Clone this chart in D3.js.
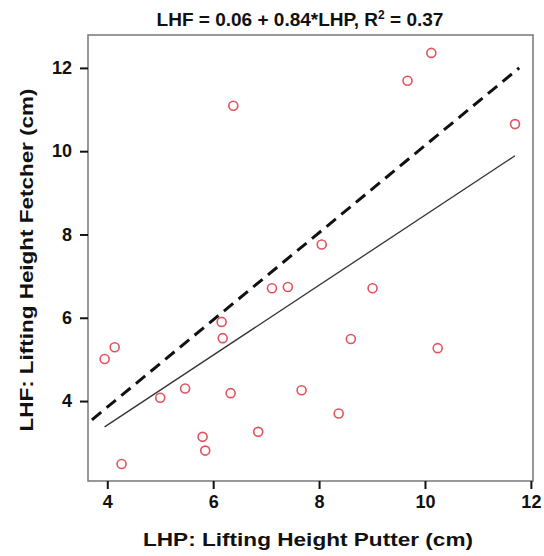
<!DOCTYPE html>
<html>
<head>
<meta charset="utf-8">
<script src="https://cdn.jsdelivr.net/npm/d3@7"></script>
<style>
  body { margin: 0; background: #fff; }
  text { font-family: "Liberation Sans", Arial, sans-serif; font-weight: bold; fill: #111; }
</style>
</head>
<body>
<div id="chart"></div>
<script>
// 数据
const lhp = [3.95, 4.14, 4.27, 5.0, 5.47, 5.80, 5.85, 6.16, 6.18, 6.33, 6.38, 6.85,
             7.11, 7.41, 7.67, 8.05, 8.37, 8.60, 9.01, 9.67, 10.12, 10.24, 11.70];
const lhf = [5.01, 5.29, 2.49, 4.08, 4.30, 3.14, 2.81, 5.90, 5.51, 4.19, 11.09, 3.26,
             6.71, 6.74, 4.26, 7.76, 3.70, 5.49, 6.71, 11.69, 12.36, 5.27, 10.65];
// 回归线和虚线端点
const fitLine = [[3.95, 3.38], [11.7, 9.89]];
const dashLine = [[3.71, 3.55], [11.78, 12.0]];
const xTicks = [4, 6, 8, 10, 12];
const yTicks = [4, 6, 8, 10, 12];

const W = 544, H = 556;
const margin = {top: 35, right: 11, bottom: 75, left: 88};
const width = W - margin.left - margin.right;
const height = H - margin.top - margin.bottom;

const svg = d3.select('#chart')
    .append('svg')
    .attr('width', W)
    .attr('height', H);

const g = svg.append('g')
    .attr('transform', `translate(${margin.left},${margin.top})`);

const x = d3.scaleLinear().domain([3.636, 12.04]).range([0, width]);
const y = d3.scaleLinear().domain([2.08, 12.79]).range([height, 0]);

// 边框
g.append('rect')
    .attr('width', width)
    .attr('height', height)
    .attr('fill', 'none')
    .attr('stroke', '#777')
    .attr('stroke-width', 1.5);

// X轴
const xAxis = g.append('g')
    .attr('transform', `translate(0,${height})`)
    .call(d3.axisBottom(x).tickValues(xTicks).tickSize(8).tickPadding(6));
xAxis.select('.domain').remove();
xAxis.selectAll('.tick line').attr('stroke', '#111').attr('stroke-width', 2);
xAxis.selectAll('text').style('font-size', '18px').attr('fill', '#111');

// Y轴
const yAxis = g.append('g')
    .call(d3.axisLeft(y).tickValues(yTicks).tickSize(8).tickPadding(8));
yAxis.select('.domain').remove();
yAxis.selectAll('.tick line').attr('stroke', '#111').attr('stroke-width', 2);
yAxis.selectAll('text').style('font-size', '18px').attr('fill', '#111');

// 轴标签
svg.append('text')
    .attr('x', 308)
    .attr('y', 546)
    .attr('text-anchor', 'middle')
    .attr('textLength', 330)
    .attr('lengthAdjust', 'spacingAndGlyphs')
    .style('font-size', '19px')
    .text('LHP: Lifting Height Putter (cm)');

svg.append('text')
    .attr('transform', 'rotate(-90)')
    .attr('x', -260)
    .attr('y', 33)
    .attr('text-anchor', 'middle')
    .attr('textLength', 343)
    .attr('lengthAdjust', 'spacingAndGlyphs')
    .style('font-size', '19px')
    .text('LHF: Lifting Height Fetcher (cm)');

// 标题
const title = svg.append('text')
    .attr('x', 300)
    .attr('y', 26)
    .attr('text-anchor', 'middle')
    .style('font-size', '19px');
title.append('tspan').text('LHF = 0.06 + 0.84*LHP, R');
title.append('tspan').attr('dy', -7).style('font-size', '12px').text('2');
title.append('tspan').attr('dy', 7).text(' = 0.37');

// 线
const line = d3.line().x(d => x(d[0])).y(d => y(d[1]));
g.append('path')
    .datum(dashLine)
    .attr('d', line)
    .attr('fill', 'none')
    .attr('stroke', '#111')
    .attr('stroke-width', 3)
    .attr('stroke-dasharray', '12,7');

g.append('path')
    .datum(fitLine)
    .attr('d', line)
    .attr('fill', 'none')
    .attr('stroke', '#333')
    .attr('stroke-width', 1.3);

// 散点
g.selectAll('circle')
    .data(lhp)
    .enter()
    .append('circle')
    .attr('cx', d => x(d))
    .attr('cy', (d, i) => y(lhf[i]))
    .attr('r', 4.5)
    .attr('fill', 'none')
    .attr('stroke', '#e2535e')
    .attr('stroke-width', 1.6);
</script>
</body>
</html>
